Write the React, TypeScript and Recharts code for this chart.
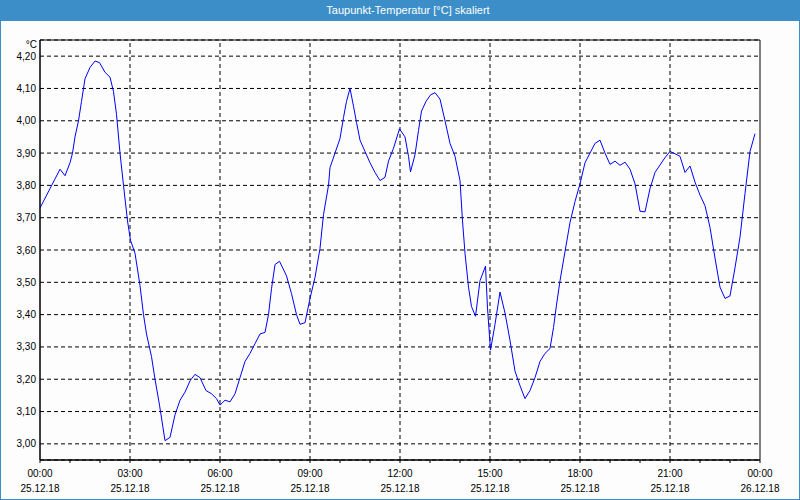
import React from 'react';
import { LineChart, Line, XAxis, YAxis, CartesianGrid, ReferenceLine, ReferenceArea } from 'recharts';

const minutes = [
  0, 20, 30, 40, 50, 60, 65, 70, 77, 83, 90, 100, 110, 119, 130, 140, 147, 153, 160, 167,
  175, 181, 190, 200, 207, 213, 223, 230, 239, 250, 260, 270, 280, 290, 300, 310, 320, 332, 343, 353,
  360, 370, 380, 390, 400, 410, 420, 430, 440, 450, 457, 463, 470, 479, 493, 503, 513, 520, 530, 540,
  550, 560, 567, 577, 580, 590, 600, 607, 613, 620, 627, 633, 640, 650, 660, 670, 680, 690, 697, 707,
  719, 730, 737, 741, 750, 757, 763, 772, 781, 790, 800, 810, 820, 830, 840, 845, 850, 857, 863, 871,
  880, 891, 895, 901, 910, 920, 930, 940, 950, 960, 970, 980, 990, 1000, 1010, 1020, 1027, 1033, 1040, 1050,
  1060, 1070, 1080, 1090, 1100, 1110, 1120, 1130, 1140, 1150, 1160, 1170, 1180, 1190, 1200, 1210, 1220, 1230, 1240, 1250,
  1260, 1270, 1280, 1290, 1300, 1310, 1320, 1330, 1340, 1350, 1360, 1370, 1380, 1390, 1400, 1410, 1420, 1430,
];

const dewPoint = [
  3.73, 3.79, 3.82, 3.85, 3.83, 3.87, 3.9, 3.95, 4.0, 4.06, 4.13, 4.165, 4.185, 4.18, 4.15, 4.135, 4.09, 4.02, 3.9, 3.8,
  3.69, 3.63, 3.59, 3.49, 3.4, 3.34, 3.27, 3.2, 3.12, 3.01, 3.02, 3.09, 3.135, 3.16, 3.195, 3.215, 3.205, 3.165, 3.155, 3.14,
  3.12, 3.135, 3.13, 3.155, 3.205, 3.255, 3.28, 3.31, 3.34, 3.345, 3.4, 3.48, 3.555, 3.565, 3.52, 3.465, 3.4, 3.37, 3.375, 3.45,
  3.515, 3.605, 3.71, 3.8, 3.855, 3.9, 3.945, 4.01, 4.06, 4.1, 4.045, 3.995, 3.94, 3.905, 3.87, 3.84, 3.815, 3.825, 3.875, 3.915,
  3.975, 3.95, 3.89, 3.842, 3.895, 3.97, 4.03, 4.06, 4.08, 4.087, 4.067, 4.0, 3.93, 3.89, 3.815, 3.69, 3.59, 3.485, 3.425, 3.395,
  3.505, 3.55, 3.42, 3.29, 3.37, 3.47, 3.405, 3.32, 3.225, 3.18, 3.14, 3.165, 3.205, 3.255, 3.28, 3.295, 3.36, 3.43, 3.505, 3.595,
  3.685, 3.75, 3.805, 3.87, 3.9, 3.93, 3.94, 3.9, 3.865, 3.875, 3.862, 3.872, 3.85, 3.805, 3.72, 3.718, 3.79, 3.84, 3.863, 3.886,
  3.905, 3.898, 3.89, 3.84, 3.86, 3.81, 3.77, 3.737, 3.67, 3.575, 3.485, 3.45, 3.458, 3.545, 3.64, 3.775, 3.905, 3.96,
];

const hourTicks = [0, 60, 120, 180, 240, 300, 360, 420, 480, 540, 600, 660, 720, 780, 840, 900, 960, 1020, 1080, 1140, 1200, 1260, 1320, 1380, 1440];
const majorTicks = [0, 180, 360, 540, 720, 900, 1080, 1260, 1440];
const majorTimes = ['00:00', '03:00', '06:00', '09:00', '12:00', '15:00', '18:00', '21:00', '00:00'];
const majorDates = ['25.12.18', '25.12.18', '25.12.18', '25.12.18', '25.12.18', '25.12.18', '25.12.18', '25.12.18', '26.12.18'];
const innerMajor = [180, 360, 540, 720, 900, 1080, 1260];
const yTicks = [3.0, 3.1, 3.2, 3.3, 3.4, 3.5, 3.6, 3.7, 3.8, 3.9, 4.0, 4.1, 4.2];

const data = minutes.map((m, i) => ({ t: m, v: dewPoint[i] }));

const FONT = '"Liberation Sans", Arial, sans-serif';
const BLUE = '#3b8ec7';

const XTick = (props: any) => {
  const { x, payload } = props;
  const idx = majorTicks.indexOf(payload.value);
  if (idx < 0) return null;
  return (
    <g>
      <text x={x} y={477} textAnchor="middle" fontSize={10} fontFamily={FONT} fill="#000">{majorTimes[idx]}</text>
      <text x={x} y={492} textAnchor="middle" fontSize={10} fontFamily={FONT} fill="#000">{majorDates[idx]}</text>
    </g>
  );
};

export default function App() {
  return (
    <div style={{ position: 'absolute', left: 0, top: 0, width: 800, height: 500, background: '#fcfdfc', fontFamily: FONT }}>
      <div style={{ position: 'absolute', left: 0, top: 0, width: 800, height: 21, background: BLUE }} />
      <div style={{ position: 'absolute', left: 0, top: 0, width: 816, height: 21, lineHeight: '21px', textAlign: 'center', color: '#fff', fontSize: 11, fontFamily: FONT }}>
        Taupunkt-Temperatur [°C] skaliert
      </div>
      <div style={{ position: 'absolute', left: 0, top: 0 }}>
        <LineChart width={800} height={500} data={data} margin={{ top: 40, right: 40, bottom: 0, left: 0 }}>
          <CartesianGrid vertical={false} stroke="#000" strokeDasharray="4 3" />
          {innerMajor.map((m) => (
            <ReferenceLine key={m} x={m} stroke="#000" strokeDasharray="4 3" ifOverflow="extendDomain" />
          ))}
          <ReferenceArea x1={0} x2={1440} y1={2.95} y2={4.25} fill="none" stroke="#000" strokeWidth={1} />
          <XAxis
            dataKey="t"
            type="number"
            domain={[0, 1440]}
            ticks={hourTicks}
            interval={0}
            height={40}
            axisLine={{ stroke: '#000' }}
            tickLine={{ stroke: '#000' }}
            tickSize={3}
            tick={<XTick />}
            allowDataOverflow
          />
          <YAxis
            type="number"
            domain={[2.95, 4.25]}
            ticks={yTicks}
            interval={0}
            width={40}
            axisLine={{ stroke: '#000' }}
            tickLine={false}
            tickSize={0}
            tickMargin={4}
            tickFormatter={(v: number) => v.toFixed(2).replace('.', ',')}
            tick={{ fill: '#000', fontSize: 10, fontFamily: FONT }}
            allowDataOverflow
            label={{
              content: () => (
                <text x={37} y={48} textAnchor="end" fontSize={10} fontFamily={FONT} fill="#000">°C</text>
              ),
            }}
          />
          <Line type="linear" dataKey="v" stroke="#0000ff" strokeWidth={1} dot={false} isAnimationActive={false} />
        </LineChart>
      </div>
      <div style={{ position: 'absolute', left: 0, top: 0, width: 800, height: 500, boxSizing: 'border-box', border: `1px solid ${BLUE}`, pointerEvents: 'none' }} />
    </div>
  );
}
